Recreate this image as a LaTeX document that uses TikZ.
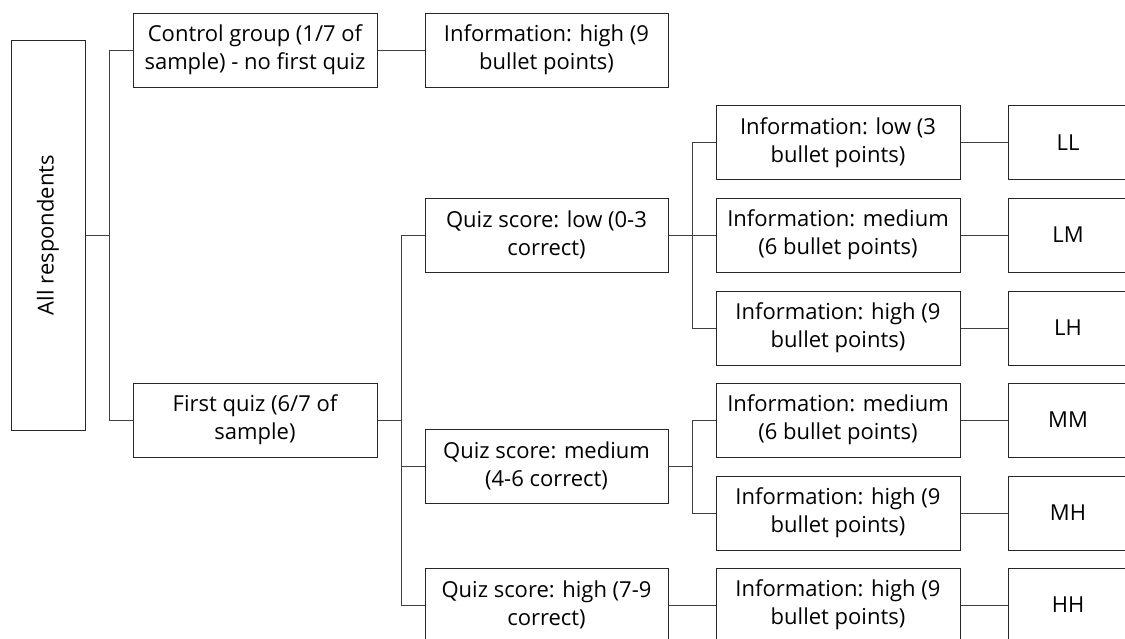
\documentclass[tikz,border=0pt]{standalone}
\usepackage{fontspec}
\setmainfont{Open Sans}
\begin{document}
\begin{tikzpicture}[x=1pt,y=-1pt,
  box/.style={draw=black!85, line width=1pt, rectangle, inner sep=0pt, align=center,
    minimum width=244pt, minimum height=74pt, font=\fontsize{22}{28}\selectfont},
  endbox/.style={box, minimum width=120pt},
  conn/.style={draw=black!75, line width=1pt}]
\useasboundingbox (0,0) rectangle (1125,638);
\node[box, minimum width=74pt, minimum height=390pt] (root) at (48,235) {};
\node[rotate=90, font=\fontsize{22}{28}\selectfont] (roottext) at (root.center) {All respondents};
\node[box] (ctrl) at (255,50) {Control group (1/7 of\\sample) - no first quiz};
\node[box, minimum width=243pt] (inf0) at (546.5,50) {Information: high (9\\bullet points)};
\node[box] (fq) at (255,420) {First quiz (6/7 of\\sample)};
\node[box, minimum width=243pt] (ql) at (546.5,235) {Quiz score: low (0-3\\correct)};
\node[box, minimum width=243pt] (qm) at (546.5,466) {Quiz score: medium\\(4-6 correct)};
\node[box, minimum width=243pt] (qh) at (546.5,605) {Quiz score: high (7-9\\correct)};
\node[box] (il) at (838,142.5) {Information: low (3\\bullet points)};
\node[box] (im) at (838,235) {Information: medium\\(6 bullet points)};
\node[box] (ih) at (838,328) {Information: high (9\\bullet points)};
\node[box] (mm) at (838,420) {Information: medium\\(6 bullet points)};
\node[box] (mh) at (838,513) {Information: high (9\\bullet points)};
\node[box] (hh) at (838,605) {Information: high (9\\bullet points)};
\node[endbox] (LL) at (1068,142.5) {LL};
\node[endbox] (LM) at (1068,235) {LM};
\node[endbox] (LH) at (1068,328) {LH};
\node[endbox] (MM) at (1068,420) {MM};
\node[endbox] (MH) at (1068,513) {MH};
\node[endbox] (HH) at (1068,605) {HH};
\coordinate (j0) at (109,235);
\coordinate (j1) at (401,420);
\coordinate (j2) at (692,235);
\coordinate (j3) at (692,466);
\draw[conn] (root.east) -- (j0);
\draw[conn] (j0) |- (ctrl.west);
\draw[conn] (j0) |- (fq.west);
\draw[conn] (ctrl.east) -- (inf0.west);
\draw[conn] (fq.east) -- (j1);
\draw[conn] (j1) |- (ql.west);
\draw[conn] (j1) |- (qm.west);
\draw[conn] (j1) |- (qh.west);
\draw[conn] (ql.east) -- (j2);
\draw[conn] (j2) |- (il.west);
\draw[conn] (j2) |- (im.west);
\draw[conn] (j2) |- (ih.west);
\draw[conn] (qm.east) -- (j3);
\draw[conn] (j3) |- (mm.west);
\draw[conn] (j3) |- (mh.west);
\draw[conn] (qh.east) -- (hh.west);
\draw[conn] (il.east) -- (LL.west);
\draw[conn] (im.east) -- (LM.west);
\draw[conn] (ih.east) -- (LH.west);
\draw[conn] (mm.east) -- (MM.west);
\draw[conn] (mh.east) -- (MH.west);
\draw[conn] (hh.east) -- (HH.west);
\end{tikzpicture}
\end{document}
